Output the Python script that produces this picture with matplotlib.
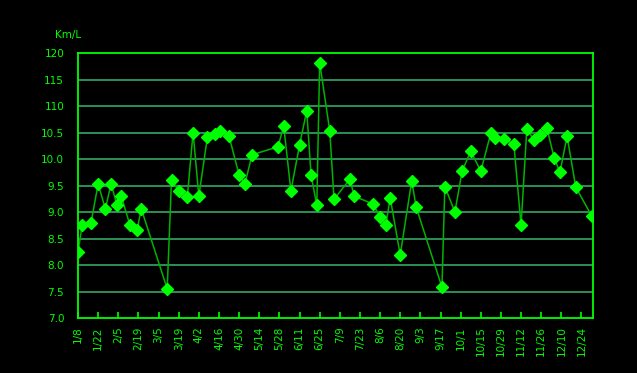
import matplotlib
matplotlib.use("Agg")
import matplotlib.pyplot as plt
import matplotlib.dates as mdates
import pandas as pd

# fuel economy log (km/L)
dates = ["01/08", "01/11", "01/17", "01/22", "01/27", "01/31", "02/04", "02/07",
         "02/13", "02/18", "02/21", "03/11", "03/14", "03/19", "03/25", "03/29",
         "04/02", "04/08", "04/13", "04/17", "04/23", "04/30", "05/04", "05/09",
         "05/27", "05/31", "06/05", "06/11", "06/16", "06/19", "06/23", "06/25",
         "07/02", "07/05", "07/16", "07/19", "08/01", "08/06", "08/10", "08/13",
         "08/20", "08/28", "08/31", "09/18", "09/20", "09/27", "10/02", "10/08",
         "10/15", "10/22", "10/25", "10/31", "11/07", "11/12", "11/16", "11/21",
         "11/25", "11/30", "12/05", "12/09", "12/14", "12/20", "12/31"]
kml = [8.25, 8.76, 8.79, 9.53, 9.06, 9.53, 9.14, 9.31,
       8.76, 8.66, 9.06, 7.55, 9.61, 9.40, 9.29, 10.50,
       9.30, 10.42, 10.47, 10.52, 10.43, 9.70, 9.53, 10.08,
       10.23, 10.62, 9.40, 10.26, 10.91, 9.70, 9.13, 11.82,
       10.53, 9.24, 9.62, 9.30, 9.15, 8.91, 8.75, 9.27,
       8.19, 9.59, 9.10, 7.58, 9.48, 9.00, 9.77, 10.15,
       9.77, 10.49, 10.40, 10.38, 10.28, 8.75, 10.57, 10.36,
       10.45, 10.58, 10.02, 9.75, 10.43, 9.47, 8.93]

ytick_vals = [7.0, 7.5, 8.0, 8.5, 9.0, 9.5, 10.0, 10.5, 11.0, 11.5, 12.0]
ytick_labels = ["7.0", "7.5", "8.0", "8.5", "9.0", "9.5", "10.0", "10.5", "110", "115", "120"]

year = 2007
x = pd.to_datetime([f"{year}/{d}" for d in dates])

lime = "#00ff00"
grid_c = "#2f9a5c"
line_c = "#00b400"

fig = plt.figure(figsize=(6.37, 3.73), dpi=100, facecolor="black")
ax = fig.add_axes([78/637, 55/373, 515/637, 265/373], facecolor="black")

for v in ytick_vals[1:-1]:
    ax.axhline(v, color=grid_c, lw=1.3, zorder=1)

ax.plot(x, kml, color=line_c, lw=1.1, zorder=2)
ax.plot(x, kml, ls="none", marker="D", ms=6, color=lime, mec=lime, zorder=3)

ax.set_ylim(7.0, 12.0)
ax.set_yticks(ytick_vals)
ax.set_yticklabels(ytick_labels)
ax.set_xlim(pd.Timestamp(f"{year}-01-08"), pd.Timestamp(f"{year + 1}-01-01"))

xt = pd.date_range(f"{year}-01-08", f"{year}-12-24", freq="14D")
ax.set_xticks(xt)
ax.set_xticklabels([f"{d.month}/{d.day}" for d in xt], rotation=90)

for s in ax.spines.values():
    s.set_color(lime)
    s.set_linewidth(1.3)

ax.tick_params(axis="y", length=0, pad=10, labelcolor=lime, labelsize=7.5)
ax.tick_params(axis="x", direction="in", length=4, width=1.2, color=lime,
               pad=6, labelcolor=lime, labelsize=7.5)

fig.text(55/637, 1 - 35/373, "Km/L", color=lime, fontsize=7.5, va="center")

fig.savefig("out.png", dpi=100, facecolor="black")
